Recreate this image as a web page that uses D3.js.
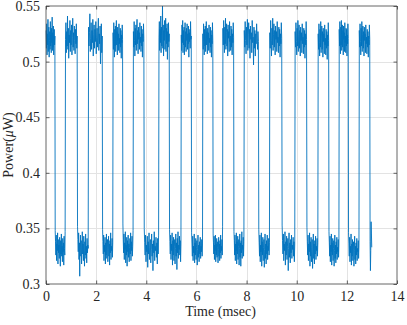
<!DOCTYPE html>
<html><head><meta charset="utf-8">
<script src="https://cdn.jsdelivr.net/npm/d3@7/dist/d3.min.js"></script>
<style>body{margin:0;background:#fff}svg{display:block}</style>
</head><body><svg id="c" width="407" height="325"></svg>
<script>
// Segment boundary times (msec), read from the switching edges
const edges = [0,0.36,0.77,1.25,1.69,2.25,2.67,3.06,3.48,3.91,4.50,4.92,5.39,5.80,6.25,6.66,7.05,7.49,7.90,8.48,8.92,9.41,9.93,10.40,10.85,11.28,11.69,12.06,12.49,12.92,13.0];
// Power samples per segment in units of 0.001 µW (alternating high / low)
const samples = [
[528,512,534,506,525,515,538,509,522,531,504,519,527,511,536,514,524,508,530,517,540,510,526,513,532,506,521,529,515,523],
[348,338,326,344,321,336,330,346,318,340,328,335,323,342,331,316,339,327,345,325,334,320,341,329,337,317,343,332,326,347],
[520,535,508,527,514,541,511,530,503,524,517,537,509,528,515,533,506,522,539,513,526,510,532,519,507,529,516,534,512,523],
[352,340,329,346,322,337,307,333,344,325,339,318,331,347,327,336,321,343,330,316,338,326,345,323,334,319,341,328,335,332],
[531,514,526,543,509,521,535,511,528,517,538,505,524,533,512,529,518,536,507,522,530,513,527,539,510,525,516,532,498,520,534,508,523],
[349,338,327,344,321,335,329,342,318,337,326,345,323,333,340,320,331,343,325,336,317,339,328,346,322,334,330,341,324,337],
[526,511,535,518,504,529,514,532,509,523,537,515,527,506,531,519,525,510,534,516,521,508,530,513,528,503,524,517,533,520],
[354,340,328,345,322,337,331,347,319,335,326,342,316,339,329,344,324,336,320,333,341,327,346,321,338,330,343,325,334,348],
[527,513,536,519,505,530,515,533,510,524,538,516,528,507,531,520,526,511,535,517,522,509,532,514,529,504,525,518,534,521],
[350,337,326,344,320,335,329,343,315,338,327,346,322,333,340,319,331,345,325,336,312,339,328,347,321,334,330,342,324,337,318,341,327,344],
[522,536,510,529,517,541,508,531,514,526,550,512,533,505,528,519,537,511,524,539,509,530,516,534,502,527,513,535,518,525],
[349,338,327,344,322,336,330,346,317,339,326,342,321,334,340,318,332,345,325,337,313,341,328,347,323,335,331,343,326,339,320,336],
[524,510,533,517,537,508,528,515,531,506,522,535,513,527,509,530,519,534,511,525,516,532,504,526,518,529,512,536,520,523],
[346,336,325,343,321,334,328,345,319,337,326,341,322,333,339,317,331,344,324,335,320,338,327,342,323,334,329,340,325,336],
[525,511,534,518,506,529,514,532,509,523,536,515,527,507,530,520,526,510,533,517,521,508,531,513,528,504,524,516,535,519],
[345,337,327,343,322,335,330,344,320,336,326,341,324,333,338,319,331,342,325,336,321,339,328,344,323,334,330,340,326,352],
[530,515,537,520,508,531,516,539,511,526,534,514,529,505,533,521,527,509,536,518,523,510,532,513,529,506,525,517,535,522],
[347,339,326,344,321,336,330,346,318,338,327,343,322,334,340,317,332,345,324,337,316,339,328,347,323,335,331,342,325,338],
[528,513,536,519,507,531,515,538,510,524,535,512,529,503,532,520,526,508,537,517,522,497,531,512,528,505,525,516,534,521,511,527,518],
[349,337,325,344,320,335,329,346,316,338,326,342,321,333,340,315,331,345,323,336,318,339,327,344,322,334,330,341,326,337],
[526,512,537,519,505,530,515,539,510,524,534,513,528,506,532,520,527,509,536,517,522,508,531,514,529,504,525,516,535,521],
[353,339,327,345,321,336,330,347,317,338,326,343,322,334,341,312,332,346,324,337,319,340,328,344,323,335,331,342,325,338,320,336],
[527,513,535,518,506,530,514,537,509,524,533,512,528,505,531,519,526,508,534,516,522,507,530,513,528,503,525,515,536,520],
[351,338,326,344,321,336,329,346,316,338,325,342,320,333,340,314,331,345,323,336,318,339,327,343,322,334,330,341,325,337],
[525,511,534,517,505,529,513,536,508,523,532,511,527,504,530,518,525,507,533,515,521,506,529,512,527,502,524,514,535,519],
[347,337,325,343,320,335,329,345,317,337,326,341,321,332,339,316,330,344,323,335,319,338,327,342,322,333,329,340,324,336],
[529,514,536,519,507,531,515,537,510,525,533,513,528,506,532,520,526,509,535,517,523,508,530,514,529,505,524,516,534,521],
[346,336,325,342,320,334,328,345,317,336,325,340,321,331,338,316,330,343,322,334,318,337,326,341,321,332,329,339,323,335],
[528,513,534,518,506,530,514,536,509,524,532,512,527,505,531,519,525,508,533,516,522,507,529,513,527,504,523,515,533,520],
[338,312,330,356,345,333]
];
const xTicks = [0,2,4,6,8,10,12,14];
const yTicks = [0.3,0.35,0.4,0.45,0.5,0.55];
const xLabel = "Time (msec)";

const FONT = '"Liberation Serif", "Times New Roman", Times, serif';
const FS = "14px";
const svg = d3.select("#c");
const L=46, R=397, T=6, B=284;
const x = d3.scaleLinear().domain([0,14]).range([L,R]);
const y = d3.scaleLinear().domain([0.3,0.55]).range([B,T]);

const pts = [];
samples.forEach((seg,i)=>{
  const t0=edges[i], t1=edges[i+1], n=seg.length;
  seg.forEach((v,j)=>pts.push([t0+(j+0.5)*(t1-t0)/n, v/1000]));
});

const g = svg.append("g");
g.selectAll(".gx").data(xTicks.slice(1,-1)).join("line")
 .attr("x1",d=>Math.round(x(d))+0.5).attr("x2",d=>Math.round(x(d))+0.5).attr("y1",T).attr("y2",B)
 .attr("stroke","#e3e3e3").attr("stroke-width",1);
g.selectAll(".gy").data(yTicks.slice(1,-1)).join("line")
 .attr("y1",d=>Math.round(y(d))+0.5).attr("y2",d=>Math.round(y(d))+0.5).attr("x1",L).attr("x2",R)
 .attr("stroke","#e3e3e3").attr("stroke-width",1);

svg.append("path").datum(pts)
 .attr("d", d3.line().x(d=>x(d[0])).y(d=>y(d[1])))
 .attr("fill","none").attr("stroke","#0072BD").attr("stroke-width",0.9).attr("stroke-linejoin","round");

const tk = 3.5;
const xb = d3.axisBottom(x).tickValues(xTicks).tickSize(-tk).tickPadding(7).tickFormat(d3.format("d"));
const xt = d3.axisTop(x).tickValues(xTicks).tickSize(-tk).tickFormat("");
const yl = d3.axisLeft(y).tickValues(yTicks).tickSize(-tk).tickPadding(6).tickFormat(d=>String(+d.toFixed(2)));
const yr = d3.axisRight(y).tickValues(yTicks).tickSize(-tk).tickFormat("");
function style(sel){
  sel.attr("font-family",null).attr("font-size",null);
  sel.selectAll("path,line").attr("stroke","#404040").attr("stroke-width",0.8);
  sel.selectAll("text").style("font-size",FS).style("fill","#262626").style("font-family",FONT);
}
svg.append("g").attr("transform",`translate(0,${B})`).call(xb).call(style).call(s=>s.select(".domain").attr("d",`M${L},0H${R}`));
svg.append("g").attr("transform",`translate(0,${T})`).call(xt).call(style).call(s=>s.select(".domain").attr("d",`M${L},0H${R}`));
svg.append("g").attr("transform",`translate(${L},0)`).call(yl).call(style).call(s=>s.select(".domain").attr("d",`M0,${T}V${B}`));
svg.append("g").attr("transform",`translate(${R},0)`).call(yr).call(style).call(s=>s.select(".domain").attr("d",`M0,${T}V${B}`));

svg.append("text").attr("x",(L+R)/2 - 1).attr("y",316).attr("text-anchor","middle")
 .style("font-family",FONT).style("font-size",FS).style("fill","#262626").text(xLabel);
const yt = svg.append("text").attr("transform",`translate(13,${(T+B)/2}) rotate(-90)`).attr("text-anchor","middle")
 .style("font-family",FONT).style("font-size",FS).style("fill","#262626");
yt.append("tspan").text("Power(");
yt.append("tspan").attr("font-style","italic").text("\u03BC");
yt.append("tspan").text("W)");
</script></body></html>
